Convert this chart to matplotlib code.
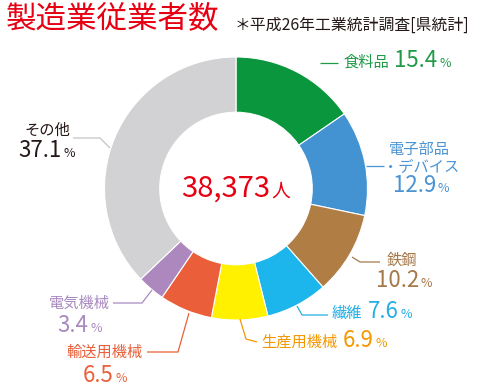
import matplotlib
matplotlib.use("Agg")
import matplotlib.pyplot as plt

plt.rcParams['font.family'] = ['Noto Sans CJK JP', 'DejaVu Sans']

# data
names = ['食料品', '電子部品・デバイス', '鉄鋼', '繊維', '生産用機械', '輸送用機械', '電気機械', 'その他']
shares = [15.4, 12.9, 10.2, 7.6, 6.9, 6.5, 3.4, 37.1]
total_workers = '38,373'
wedge_colors = ['#0a963c', '#4393d3', '#b07e45', '#1cb5ec', '#fff100', '#ea5f3a', '#ad88bf', '#d2d2d4']
text_colors = ['#1f9a47', '#4a94d4', '#a6794a', '#22aee6', '#f39800', '#e9603a', '#a889c0', '#231815']

W, H = 480, 389
fig = plt.figure(figsize=(W / 100, H / 100), dpi=100)
ax = fig.add_axes([0, 0, 1, 1])
cx, cy, R = 236, H - 188.5, 131.5

ax.pie(shares, colors=wedge_colors, startangle=90, counterclock=False,
       center=(cx, cy), radius=R,
       wedgeprops=dict(width=R * 0.42, edgecolor='white', linewidth=0.8))
ax.set_xlim(0, W)
ax.set_ylim(0, H)
ax.set_aspect('equal')
ax.axis('off')

renderer = fig.canvas.get_renderer()


def run(x, y, parts, color, ha='left'):
    # draw pieces of text side by side on one baseline (y in image pixels)
    arts = []
    pos = x
    for s, size, gap in parts:
        t = ax.text(pos, H - y, s, fontsize=size, color=color, va='baseline', ha='left')
        pos += t.get_window_extent(renderer).width + gap
        arts.append(t)
    width = pos - x - parts[-1][2]
    shift = {'left': 0, 'center': -width / 2, 'right': -width}[ha]
    for t in arts:
        t.set_x(t.get_position()[0] + shift)


def leader(pts, color):
    ax.plot([p[0] for p in pts], [H - p[1] for p in pts], color=color, lw=0.9,
            solid_capstyle='butt')


def pct(v):
    return [(f'{v:.1f}', 16, 2), ('%', 9, 0)]


c = text_colors
# 食料品
leader([(320, 63), (338, 63)], c[0])
run(343, 67, [('食料品', 11, 5)] + pct(shares[0]), c[0])
# 電子部品・デバイス
leader([(366, 166), (384, 166)], c[1])
run(419, 154, [('電子部品', 11, 0)], c[1], 'center')
run(421, 171, [('・デバイス', 11, 0)], c[1], 'center')
run(421, 192, pct(shares[1]), c[1], 'center')
# 鉄鋼
leader([(352, 257), (360, 262), (380, 262)], c[2])
run(402, 265, [('鉄鋼', 11, 0)], c[2], 'center')
run(404, 287, pct(shares[2]), c[2], 'center')
# 繊維
leader([(297, 306), (302, 315), (328, 315)], c[3])
run(332, 318, [('繊維', 11, 5)] + pct(shares[3]), c[3])
# 生産用機械
leader([(240, 319), (246, 339), (257, 342)], c[4])
run(261, 347, [('生産用機械', 11, 5)] + pct(shares[4]), c[4])
# 輸送用機械
leader([(189, 313), (178, 352), (147, 352)], c[5])
run(143, 357, [('輸送用機械', 11, 0)], c[5], 'right')
run(105, 382, pct(shares[5]), c[5], 'center')
# 電気機械
leader([(152, 290), (142, 303), (113, 303)], c[6])
run(110, 308, [('電気機械', 11, 0)], c[6], 'right')
run(80, 332, pct(shares[6]), c[6], 'center')
# その他
leader([(110, 148), (100, 138), (73, 138)], '#c4c4c4')
run(47, 135, [('その他', 11, 0)], c[7], 'center')
run(47, 157, pct(shares[7]), c[7], 'center')

# centre total
run(cx, 197, [(total_workers, 21, 1), ('人', 13.5, 0)], '#e60012', 'center')

# titles
ax.text(6, H - 19, '製造業従業者数', fontsize=22, color='#e60012', va='center', ha='left')
ax.text(235, H - 25, '＊平成26年工業統計調査[県統計]', fontsize=11.4, color='#231815',
        va='center', ha='left')

fig.savefig('out.png', dpi=100)
